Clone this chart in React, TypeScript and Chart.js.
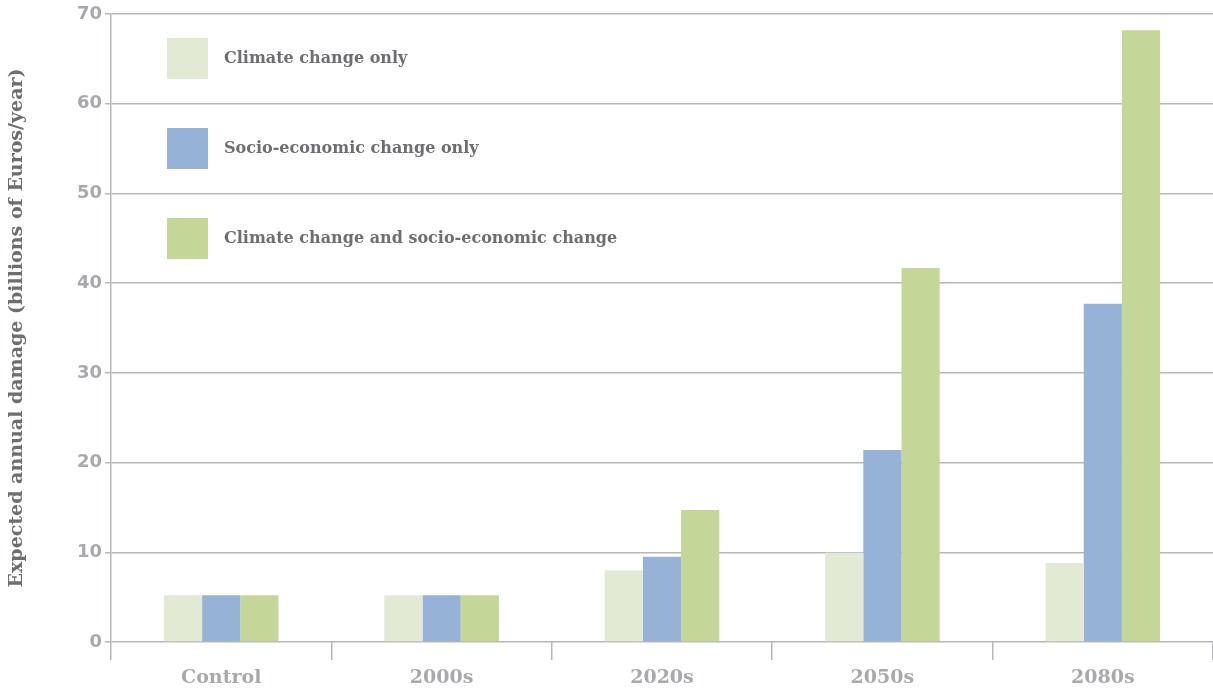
import React, { useEffect, useRef } from "react";
import { Chart, registerables } from "chart.js";

Chart.register(...registerables);

const categories = ["Control", "2000s", "2020s", "2050s", "2080s"];
const climateOnly = [5.2, 5.2, 8.0, 9.95, 8.8];
const socioOnly = [5.2, 5.2, 9.5, 21.4, 37.7];
const combined = [5.2, 5.2, 14.7, 41.7, 68.2];
const seriesNames = [
  "Climate change only",
  "Socio-economic change only",
  "Climate change and socio-economic change",
];
const seriesColors = ["#e2eAD3", "#97b2d7", "#c5d798"];
const yTitle = "Expected annual damage (billions of Euros/year)";

const GRID = "#b6b7ba";
const TICK_TEXT = "#a7a9ac";
const DARK_TEXT = "#6d6e71";
const SLAB = "'DejaVu Serif', serif";

const legendPlugin = {
  id: "inAreaLegend",
  afterDraw(chart: any) {
    const { ctx, chartArea } = chart;
    ctx.save();
    chart.data.datasets.forEach((ds: any, i: number) => {
      const x = chartArea.left + 56;
      const y = chartArea.top + 24 + i * 90;
      ctx.fillStyle = ds.backgroundColor;
      ctx.fillRect(x, y, 41, 41);
      ctx.fillStyle = DARK_TEXT;
      ctx.font = `bold 16px ${SLAB}`;
      ctx.textBaseline = "middle";
      ctx.textAlign = "left";
      ctx.fillText(ds.label, x + 57, y + 21);
    });
    ctx.restore();
  },
};

export default function App() {
  const ref = useRef<HTMLCanvasElement>(null);
  useEffect(() => {
    if (!ref.current) return;
    const values = [climateOnly, socioOnly, combined];
    const chart = new Chart(ref.current, {
      type: "bar",
      data: {
        labels: categories,
        datasets: values.map((v, i) => ({
          label: seriesNames[i],
          data: v,
          backgroundColor: seriesColors[i],
          borderWidth: 0,
          barPercentage: 1,
          categoryPercentage: 0.52,
        })),
      },
      options: {
        animation: false,
        responsive: false,
        maintainAspectRatio: false,
        layout: { padding: { top: 14, right: 0, left: 0, bottom: 0 } },
        plugins: {
          legend: { display: false },
          tooltip: { enabled: false },
        },
        scales: {
          x: {
            grid: {
              offset: true,
              drawOnChartArea: false,
              drawTicks: true,
              tickLength: 18,
              color: GRID,
              lineWidth: 1.5,
            },
            border: { display: false },
            ticks: {
              color: TICK_TEXT,
              font: { family: SLAB, weight: "bold", size: 19 },
              padding: 7,
            },
            afterFit(scale: any) {
              scale.height = 46;
            },
          },
          y: {
            min: 0,
            max: 70,
            ticks: {
              stepSize: 10,
              color: TICK_TEXT,
              font: { family: "'DejaVu Sans', sans-serif", weight: "bold", size: 18 },
              padding: 3,
            },
            grid: {
              color: GRID,
              lineWidth: 1.5,
              tickLength: 6,
            },
            border: { display: true, color: GRID, width: 1.5 },
            title: {
              display: true,
              text: yTitle,
              color: DARK_TEXT,
              font: { family: SLAB, weight: "bold", size: 19 },
              padding: { top: 6, bottom: 0 },
            },
            afterFit(scale: any) {
              scale.width = 111;
            },
          },
        },
      },
      plugins: [legendPlugin],
    });
    return () => chart.destroy();
  }, []);
  return (
    <div style={{ position: "fixed", left: 0, top: 0, width: 1213, height: 688, background: "#fff" }}>
      <canvas ref={ref} width={1213} height={688} style={{ display: "block" }} />
    </div>
  );
}
